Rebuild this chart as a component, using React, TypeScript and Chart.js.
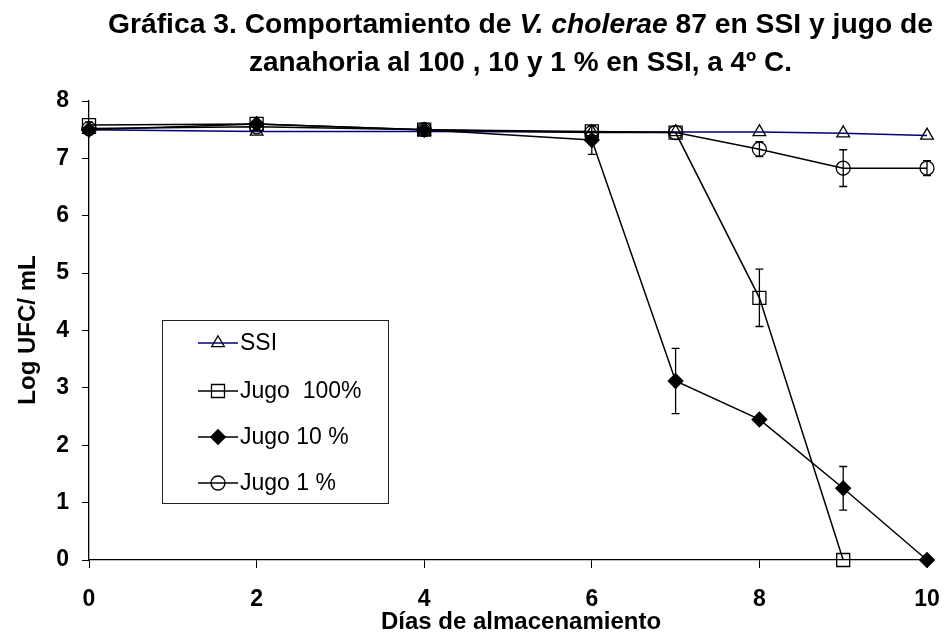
import React, { useEffect, useRef } from 'react';
import { Chart, registerables } from 'chart.js';

Chart.register(...registerables);

// ---- data ----
const days = [0, 2, 4, 6, 7, 8, 9, 10];
const seriesLabels = ['SSI', 'Jugo  100%', 'Jugo 10 %', 'Jugo 1 %'];
const ssiValues = [7.5, 7.47, 7.47, 7.46, 7.46, 7.46, 7.44, 7.4];
const jugo100Values = [7.58, 7.6, 7.5, 7.47, 7.45, 4.57, 0, null];
const jugo10Values = [7.5, 7.6, 7.5, 7.32, 3.12, 2.45, 1.25, 0];
const jugo1Values = [7.52, 7.55, 7.5, 7.45, 7.45, 7.16, 6.83, 6.83];
const ssiErrors = [0, 0, 0, 0, 0, 0, 0, 0];
const jugo100Errors = [0.05, 0.05, 0, 0, 0, 0.5, 0, 0];
const jugo10Errors = [0, 0.05, 0, 0.25, 0.57, 0, 0.38, 0];
const jugo1Errors = [0, 0, 0, 0, 0, 0.13, 0.32, 0.13];
const xTickValues = [0, 2, 4, 6, 8, 10];
const yTickValues = [0, 1, 2, 3, 4, 5, 6, 7, 8];
const titleLine1 = [
  { text: 'Gráfica 3. Comportamiento de ', italic: false },
  { text: 'V. cholerae', italic: true },
  { text: ' 87 en SSI y jugo de', italic: false },
];
const titleLine2 = [{ text: 'zanahoria al 100 , 10 y 1 % en SSI, a 4º C.', italic: false }];
const xAxisTitle = 'Días de almacenamiento';
const yAxisTitle = 'Log UFC/ mL';

const FONT = '"Liberation Sans", Arial, Helvetica, sans-serif';

const valueSets = [ssiValues, jugo100Values, jugo10Values, jugo1Values];
const errorSets = [ssiErrors, jugo100Errors, jugo10Errors, jugo1Errors];

function drawMarker(ctx: CanvasRenderingContext2D, style: string, x: number, y: number, r: number, fill: string | null) {
  ctx.beginPath();
  if (style === 'triangle') {
    for (let i = 0; i < 3; i++) {
      const a = (i * 2 * Math.PI) / 3;
      const px = x + Math.sin(a) * r;
      const py = y - Math.cos(a) * r;
      if (i === 0) ctx.moveTo(px, py);
      else ctx.lineTo(px, py);
    }
    ctx.closePath();
  } else if (style === 'rect') {
    const s = Math.SQRT1_2 * r;
    ctx.rect(x - s, y - s, 2 * s, 2 * s);
  } else if (style === 'rectRot') {
    ctx.moveTo(x, y - r);
    ctx.lineTo(x + r, y);
    ctx.lineTo(x, y + r);
    ctx.lineTo(x - r, y);
    ctx.closePath();
  } else {
    ctx.arc(x, y, r, 0, Math.PI * 2);
  }
  if (fill) {
    ctx.fillStyle = fill;
    ctx.fill();
  }
  ctx.stroke();
}

const errorBarPlugin = {
  id: 'errorBars',
  afterDatasetsDraw(chart: any) {
    const ctx = chart.ctx;
    const yScale = chart.scales.y;
    const xScale = chart.scales.x;
    ctx.save();
    ctx.strokeStyle = '#000';
    ctx.lineWidth = 1.3;
    valueSets.forEach((vals, di) => {
      const errs = errorSets[di];
      vals.forEach((v, i) => {
        const e = errs[i];
        if (v === null || !e) return;
        const x = xScale.getPixelForValue(days[i]);
        const y1 = yScale.getPixelForValue(v + e);
        const y2 = yScale.getPixelForValue(Math.max(0, v - e));
        ctx.beginPath();
        ctx.moveTo(x, y1);
        ctx.lineTo(x, y2);
        ctx.moveTo(x - 4, y1);
        ctx.lineTo(x + 4, y1);
        ctx.moveTo(x - 4, y2);
        ctx.lineTo(x + 4, y2);
        ctx.stroke();
      });
    });
    ctx.restore();
  },
};

const textPlugin = {
  id: 'texts',
  afterDraw(chart: any) {
    const ctx: CanvasRenderingContext2D = chart.ctx;
    ctx.save();
    ctx.fillStyle = '#000';
    // title
    const lines = [
      { segs: titleLine1, width: 825, baseline: 33 },
      { segs: titleLine2, width: 543, baseline: 71 },
    ];
    const cx = 520.5;
    lines.forEach((ln) => {
      let total = 0;
      const widths = ln.segs.map((s) => {
        ctx.font = `${s.italic ? 'italic ' : ''}bold 27px ${FONT}`;
        const w = ctx.measureText(s.text).width;
        total += w;
        return w;
      });
      const sc = ln.width / total;
      ctx.save();
      ctx.translate(cx, ln.baseline);
      ctx.scale(sc, 1);
      ctx.textBaseline = 'alphabetic';
      ctx.textAlign = 'left';
      let x = -total / 2;
      ln.segs.forEach((s, i) => {
        ctx.font = `${s.italic ? 'italic ' : ''}bold 27px ${FONT}`;
        ctx.fillText(s.text, x, 0);
        x += widths[i];
      });
      ctx.restore();
    });
    // axis titles
    ctx.font = `bold 24px ${FONT}`;
    ctx.textAlign = 'center';
    ctx.textBaseline = 'alphabetic';
    ctx.fillText(xAxisTitle, 521, 629);
    ctx.save();
    ctx.translate(35, 330);
    ctx.rotate(-Math.PI / 2);
    ctx.fillText(yAxisTitle, 0, 0);
    ctx.restore();

    // legend
    const bx = 162, by = 320, bw = 226, bh = 183;
    ctx.strokeStyle = '#222';
    ctx.lineWidth = 1;
    ctx.strokeRect(bx + 0.5, by + 0.5, bw, bh);
    const rowY = [343, 391, 437, 483];
    ctx.font = `23px ${FONT}`;
    ctx.textAlign = 'left';
    ctx.textBaseline = 'middle';
    chart.data.datasets.forEach((ds: any, i: number) => {
      const y = rowY[i];
      ctx.strokeStyle = ds.borderColor;
      ctx.lineWidth = ds.borderWidth;
      ctx.beginPath();
      ctx.moveTo(198, y);
      ctx.lineTo(238, y);
      ctx.stroke();
      ctx.strokeStyle = '#000';
      ctx.lineWidth = 1.3;
      const fill = ds.pointBackgroundColor === 'transparent' ? null : ds.pointBackgroundColor;
      drawMarker(ctx, ds.pointStyle, 218, y, ds.pointRadius, fill);
      ctx.fillStyle = '#000';
      ctx.fillText(ds.label, 240, y + 1);
    });
    ctx.restore();
  },
};

export default function App() {
  const ref = useRef<HTMLCanvasElement | null>(null);
  useEffect(() => {
    document.body.style.margin = '0';
    const canvas = ref.current;
    if (!canvas) return;
    const mk = (label: string, values: (number | null)[], color: string, style: string, r: number, bg: string, order: number) => ({
      label,
      data: values.map((v, i) => ({ x: days[i], y: v })),
      borderColor: color,
      borderWidth: 1.5,
      pointStyle: style,
      pointRadius: r,
      pointHoverRadius: r,
      pointBackgroundColor: bg,
      pointBorderColor: '#000',
      pointBorderWidth: 1.3,
      backgroundColor: bg,
      fill: false,
      tension: 0,
      spanGaps: false,
      clip: false,
      order,
    });
    const chart = new Chart(canvas, {
      type: 'line',
      data: {
        datasets: [
          mk(seriesLabels[0], ssiValues, '#000080', 'triangle', 7.3, 'transparent', 4),
          mk(seriesLabels[1], jugo100Values, '#000', 'rect', 9.2, 'transparent', 3),
          mk(seriesLabels[2], jugo10Values, '#000', 'rectRot', 7.3, '#000', 1),
          mk(seriesLabels[3], jugo1Values, '#000', 'circle', 7, 'transparent', 2),
        ] as any,
      },
      options: {
        responsive: false,
        animation: false,
        events: [],
        layout: { padding: { top: 101, right: 17, left: 0, bottom: 0 } },
        plugins: { legend: { display: false }, title: { display: false }, tooltip: { enabled: false } },
        scales: {
          x: {
            type: 'linear',
            min: 0,
            max: 10,
            afterBuildTicks: (s: any) => {
              s.ticks = xTickValues.map((v) => ({ value: v }));
            },
            afterFit: (s: any) => {
              s.height = 75;
              s.paddingLeft = 0;
              s.paddingRight = 0;
            },
            ticks: {
              color: '#000',
              font: { family: FONT, size: 23, weight: 'bold' },
              padding: 18,
              maxRotation: 0,
              autoSkip: false,
            },
            grid: { drawOnChartArea: false, drawTicks: true, tickLength: 8, color: '#000' },
            border: { color: '#000', width: 1.3 },
          },
          y: {
            type: 'linear',
            min: 0,
            max: 8,
            afterBuildTicks: (s: any) => {
              s.ticks = yTickValues.map((v) => ({ value: v }));
            },
            afterFit: (s: any) => {
              s.width = 89;
              s.paddingTop = 0;
              s.paddingBottom = 0;
            },
            ticks: {
              color: '#000',
              font: { family: FONT, size: 23, weight: 'bold' },
              padding: 13,
              autoSkip: false,
            },
            grid: { drawOnChartArea: false, drawTicks: true, tickLength: 7, color: '#000' },
            border: { color: '#000', width: 1.3 },
          },
        },
      },
      plugins: [errorBarPlugin, textPlugin],
    });
    return () => chart.destroy();
  }, []);
  return <canvas ref={ref} width={944} height={635} style={{ display: 'block' }} />;
}
